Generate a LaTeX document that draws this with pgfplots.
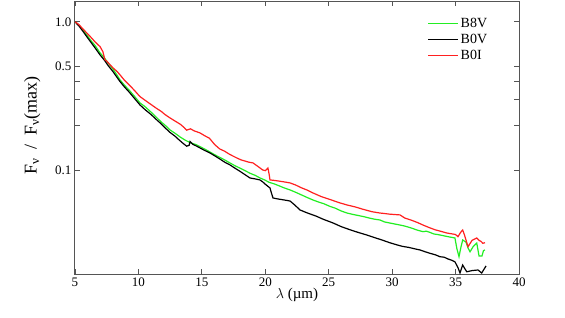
\documentclass[border=0pt]{standalone}
\usepackage{pgfplots}
\pgfplotsset{compat=1.18}
\usepackage{fontspec}
\setmainfont{Liberation Serif}
\definecolor{lgreen}{HTML}{22EE22}
\definecolor{lred}{HTML}{FF2020}
\definecolor{axgray}{HTML}{555555}
\begin{document}
\begin{tikzpicture}
\useasboundingbox (-75pt,-43pt) rectangle (490pt,274pt);
\begin{axis}[
  at={(0,0)}, anchor=south west,
  scale only axis, width=444pt, height=273pt,
  xmin=5, xmax=40, ymode=log, ymin=0.0202, ymax=1.38,
  axis line style={axgray, line width=1pt},
  tick style={axgray, line width=0.8pt},
  tick align=inside, major tick length=5pt,
  xtick={5,10,15,20,25,30,35,40},
  xticklabels={5,10,15,20,25,30,35,40},
  ytick={0.1,0.2,0.3,0.4,0.5,1},
  yticklabels={0.1,,,,0.5,1.0},
  minor ytick={},
  ticklabel style={font=\fontsize{13}{13}\selectfont},
  xlabel={\fontsize{15}{15}\selectfont $\lambda$ (\textmu m)},
  xlabel style={yshift=5pt},
  ylabel={\fontsize{18}{18}\selectfont F$_{\mbox{\fontsize{13}{13}\selectfont ν}}$\ \ /\ \ F$_{\mbox{\fontsize{13}{13}\selectfont ν}}$(max)},
  ylabel style={yshift=8pt, xshift=12pt},
  legend style={draw=none, fill=none, at={(0.94,0.952)}, anchor=north east,
    font=\fontsize{14}{16}\selectfont, row sep=1pt},
  legend cell align=left,
  legend image code/.code={\draw[#1] (0pt,0pt) -- (30pt,0pt);},
]
\addplot[lgreen, line width=1.2pt] coordinates {
(5,1.0) (5.3,0.95) (5.6,0.89) (6,0.80) (6.3,0.74) (6.6,0.69) (6.97,0.619) (7.3,0.575) (7.6,0.53) (8,0.48) (8.3,0.44) (8.55,0.407)
(8.9,0.375) (9.3,0.345) (9.7,0.315) (10.12,0.2852) (10.5,0.27) (11,0.247) (11.4,0.229) (11.8,0.212) (12.1,0.202) (12.49,0.1878)
(12.9,0.178) (13.3,0.168) (13.7,0.160) (14.1,0.154) (14.5,0.150) (14.85,0.145) (15.2,0.140) (15.6,0.134) (16.0,0.128) (16.4,0.123)
(16.8,0.118) (17.22,0.1126) (17.6,0.108) (18,0.104) (18.4,0.100) (18.8,0.096) (19.2,0.093) (19.58,0.0893) (19.9,0.087) (20.3,0.0835)
(20.7,0.0815) (21.1,0.079) (21.5,0.0765) (21.95,0.0742) (22.4,0.0715) (22.8,0.069) (23.3,0.066) (23.76,0.0635) (24.2,0.0615) (24.6,0.060)
(25.1,0.0575) (25.5,0.056) (26.0,0.0535) (26.44,0.0519) (26.9,0.0508) (27.3,0.050) (27.8,0.049) (28.2,0.048) (28.6,0.0472) (29.04,0.0466)
(29.4,0.0452) (29.8,0.0445) (30.2,0.0438) (30.62,0.0431) (31.0,0.0424) (31.5,0.0412) (32.0,0.0398) (32.43,0.0389) (32.7,0.0392) (33.0,0.0384)
(33.3,0.0375) (33.6,0.0372) (34.0,0.0366) (34.4,0.036) (34.7,0.0356) (34.95,0.0353) (35.1,0.030) (35.27,0.0264) (35.4,0.030) (35.56,0.0342)
(35.82,0.0331) (36.0,0.030) (36.14,0.0285) (36.4,0.031) (36.67,0.0326) (36.85,0.0267) (37.08,0.0267) (37.2,0.0290) (37.32,0.0293)
};
\addlegendentry{B8V}
\addplot[black, line width=1.2pt] coordinates {
(5,1.0) (5.3,0.94) (5.6,0.87) (6,0.78) (6.3,0.72) (6.6,0.665) (6.97,0.60) (7.3,0.555) (7.6,0.51) (8,0.462) (8.3,0.425) (8.55,0.3967)
(8.9,0.365) (9.3,0.335) (9.7,0.305) (10.12,0.2765) (10.5,0.258) (11,0.238) (11.4,0.221) (11.8,0.206) (12.1,0.194) (12.49,0.1806)
(12.9,0.170) (13.2,0.161) (13.5,0.153) (13.8,0.146) (14.0,0.148) (14.07,0.1567) (14.3,0.150) (14.6,0.146) (14.85,0.1421) (15.2,0.137)
(15.64,0.1315) (16.0,0.126) (16.4,0.120) (16.8,0.114) (17.22,0.1092) (17.6,0.104) (18,0.099) (18.4,0.094) (18.79,0.0893) (19.2,0.088)
(19.58,0.0866) (19.8,0.084) (20.0,0.081) (20.37,0.0765) (20.5,0.070) (20.61,0.0655) (21.0,0.0645) (21.5,0.0635) (21.95,0.0625) (22.3,0.059)
(22.74,0.0544) (23.3,0.052) (24,0.0495) (24.6,0.047) (25.34,0.0445) (26.0,0.042) (26.7,0.040) (27.3,0.0385) (28.02,0.0369) (28.6,0.0355)
(29.2,0.0342) (29.8,0.0328) (30.38,0.0317) (30.8,0.031) (31.3,0.0305) (31.8,0.0298) (32.2,0.0293) (32.6,0.0285) (33.0,0.0278) (33.4,0.0272)
(33.77,0.0264) (34.1,0.0262) (34.4,0.0255) (34.7,0.0250) (34.95,0.0244) (35.2,0.0222) (35.35,0.0205) (35.56,0.0232) (35.88,0.0209) (36.3,0.0213)
(36.77,0.0215) (37.06,0.0205) (37.40,0.0229)
};
\addlegendentry{B0V}
\addplot[lred, line width=1.2pt] coordinates {
(5,1.0) (5.3,0.96) (5.6,0.90) (6,0.83) (6.3,0.78) (6.6,0.73) (6.97,0.682) (7.2,0.63) (7.36,0.555) (7.5,0.545) (7.8,0.51)
(8,0.49) (8.3,0.465) (8.55,0.440) (8.9,0.405) (9.3,0.375) (9.7,0.345) (10.12,0.3146) (10.5,0.298) (11,0.278) (11.4,0.263) (11.8,0.250)
(12.1,0.238) (12.49,0.2261) (12.9,0.215) (13.3,0.205) (13.6,0.195) (13.8,0.187) (14.1,0.191) (14.4,0.185) (14.85,0.1793) (15.2,0.172)
(15.6,0.165) (16.0,0.150) (16.4,0.140) (16.8,0.135) (17.1,0.130) (17.4,0.126) (17.75,0.1217) (18.1,0.118) (18.4,0.116) (18.7,0.114)
(19.03,0.1127) (19.4,0.107) (19.8,0.101) (20.0,0.100) (20.21,0.104) (20.3,0.095) (20.37,0.0866) (20.7,0.086) (21.1,0.085) (21.5,0.084)
(21.95,0.0827) (22.4,0.080) (22.8,0.077) (23.3,0.074) (23.76,0.0708) (24.4,0.067) (25.1,0.064) (25.8,0.061) (26.44,0.0588) (27.1,0.057)
(27.7,0.055) (28.4,0.053) (29.04,0.0519) (29.4,0.0515) (29.8,0.051) (30.2,0.0507) (30.62,0.0504) (31.0,0.048) (31.5,0.0465) (32.0,0.0448)
(32.43,0.0431) (32.9,0.0415) (33.4,0.040) (33.8,0.0392) (34.3,0.0381) (34.8,0.0375) (35.0,0.0372) (35.19,0.036) (35.4,0.0385) (35.56,0.0399)
(35.7,0.037) (35.98,0.0308) (36.3,0.034) (36.67,0.0353) (36.85,0.034) (37.0,0.0335) (37.15,0.0325) (37.32,0.0328)
};
\addlegendentry{B0I}
\end{axis}
\end{tikzpicture}
\end{document}
